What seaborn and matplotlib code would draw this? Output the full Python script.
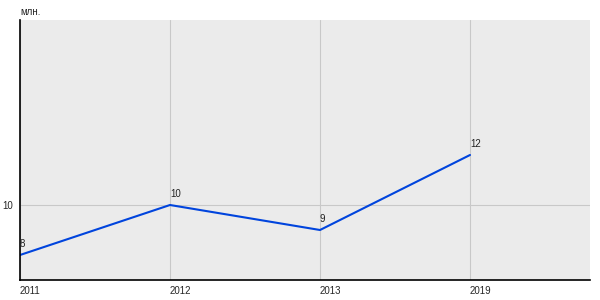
import matplotlib
matplotlib.use("Agg")
import matplotlib.pyplot as plt
import seaborn as sns
import pandas as pd

years = ["2011", "2012", "2013", "2019"]
values = [8, 10, 9, 12]
unit_label = "млн."

sns.set_style("white")
plt.rcParams['font.family'] = ['Liberation Sans', 'DejaVu Sans']

df = pd.DataFrame({"year": years, "value": values})
df["pos"] = range(len(years))

fig = plt.figure(figsize=(6, 3), dpi=100)
ax = fig.add_axes([20/600, 20/300, 570/600, 260/300])
ax.set_facecolor("#ebebeb")

sns.lineplot(data=df, x="pos", y="value", ax=ax, color="#0044dd", linewidth=1.5)

for p, v in zip(df["pos"], df["value"]):
    ax.annotate(str(v), (p, v), xytext=(0, 4), textcoords="offset points",
                ha="left", va="bottom", fontsize=7, color="#222222")

ax.set_xlim(0, 3.8)
ax.set_ylim(7, 17.4)
ax.set_xticks(df["pos"])
ax.set_xticklabels(years, ha="left", fontsize=7)
ax.set_yticks([10])
ax.set_yticklabels(["10"], fontsize=7)
ax.tick_params(axis="x", length=0, pad=4)
ax.tick_params(axis="y", length=4, pad=1, color="#333333")
ax.grid(True, color="#c8c8c8", linewidth=0.8)
ax.set_axisbelow(True)
ax.set_xlabel("")
ax.set_ylabel("")
for s in ["top", "right"]:
    ax.spines[s].set_visible(False)
for s in ["left", "bottom"]:
    ax.spines[s].set_color("black")
    ax.spines[s].set_linewidth(1.2)

fig.text(20/600, 1 - 12/300, unit_label, fontsize=7, ha="left", va="center")

fig.savefig("out.png", dpi=100)
